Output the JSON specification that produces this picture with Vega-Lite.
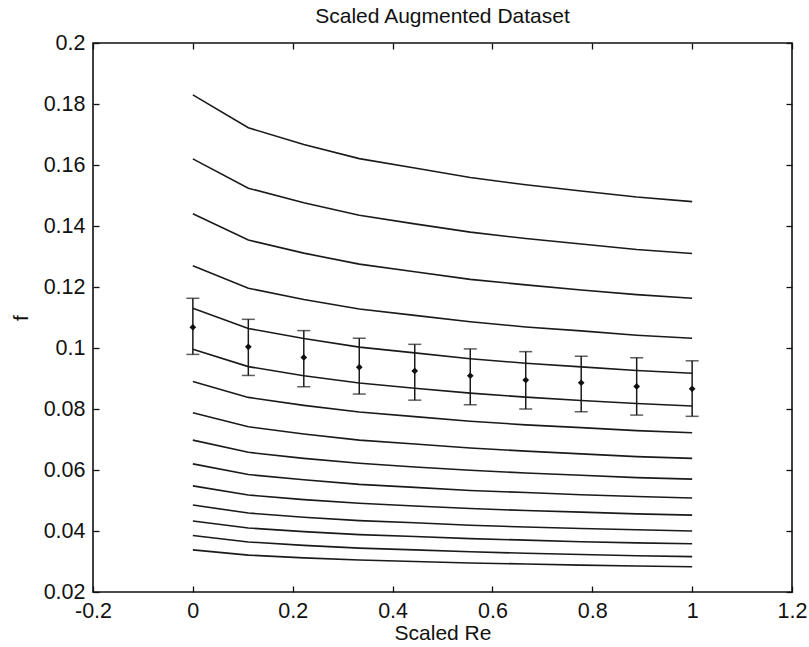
{
  "$schema": "https://vega.github.io/schema/vega-lite/v6.json",
  "width": 699,
  "height": 549,
  "autosize": {"type": "none"},
  "padding": {"left": 93, "top": 43, "right": 17, "bottom": 55},
  "background": "white",
  "config": {
    "font": "Liberation Sans",
    "view": {"stroke": "#111", "strokeWidth": 1.6}
  },
  "title": {"text": "Scaled Augmented Dataset", "fontSize": 21, "fontWeight": "normal", "color": "#111", "anchor": "middle", "offset": 5},
  "datasets": {
    "curves": [
      {"c":1,"x":0,"f":0.183},{"c":1,"x":0.1111,"f":0.1722},{"c":1,"x":0.2222,"f":0.1667},{"c":1,"x":0.3333,"f":0.1621},{"c":1,"x":0.4444,"f":0.159},{"c":1,"x":0.5556,"f":0.1559},{"c":1,"x":0.6667,"f":0.1535},{"c":1,"x":0.7778,"f":0.1515},{"c":1,"x":0.8889,"f":0.1495},{"c":1,"x":1,"f":0.148},
      {"c":2,"x":0,"f":0.162},{"c":2,"x":0.1111,"f":0.1524},{"c":2,"x":0.2222,"f":0.1476},{"c":2,"x":0.3333,"f":0.1435},{"c":2,"x":0.4444,"f":0.1407},{"c":2,"x":0.5556,"f":0.138},{"c":2,"x":0.6667,"f":0.1359},{"c":2,"x":0.7778,"f":0.1341},{"c":2,"x":0.8889,"f":0.1323},{"c":2,"x":1,"f":0.131},
      {"c":3,"x":0,"f":0.144},{"c":3,"x":0.1111,"f":0.1354},{"c":3,"x":0.2222,"f":0.1311},{"c":3,"x":0.3333,"f":0.1275},{"c":3,"x":0.4444,"f":0.125},{"c":3,"x":0.5556,"f":0.1225},{"c":3,"x":0.6667,"f":0.1207},{"c":3,"x":0.7778,"f":0.119},{"c":3,"x":0.8889,"f":0.1175},{"c":3,"x":1,"f":0.1163},
      {"c":4,"x":0,"f":0.127},{"c":4,"x":0.1111,"f":0.1196},{"c":4,"x":0.2222,"f":0.1159},{"c":4,"x":0.3333,"f":0.1128},{"c":4,"x":0.4444,"f":0.1107},{"c":4,"x":0.5556,"f":0.1086},{"c":4,"x":0.6667,"f":0.1069},{"c":4,"x":0.7778,"f":0.1056},{"c":4,"x":0.8889,"f":0.1042},{"c":4,"x":1,"f":0.1032},
      {"c":5,"x":0,"f":0.113},{"c":5,"x":0.1111,"f":0.1064},{"c":5,"x":0.2222,"f":0.1031},{"c":5,"x":0.3333,"f":0.1003},{"c":5,"x":0.4444,"f":0.0984},{"c":5,"x":0.5556,"f":0.0965},{"c":5,"x":0.6667,"f":0.095},{"c":5,"x":0.7778,"f":0.0938},{"c":5,"x":0.8889,"f":0.0926},{"c":5,"x":1,"f":0.0917},
      {"c":6,"x":0,"f":0.0996},{"c":6,"x":0.1111,"f":0.0939},{"c":6,"x":0.2222,"f":0.0909},{"c":6,"x":0.3333,"f":0.0885},{"c":6,"x":0.4444,"f":0.0868},{"c":6,"x":0.5556,"f":0.0852},{"c":6,"x":0.6667,"f":0.0839},{"c":6,"x":0.7778,"f":0.0828},{"c":6,"x":0.8889,"f":0.0818},{"c":6,"x":1,"f":0.081},
      {"c":7,"x":0,"f":0.089},{"c":7,"x":0.1111,"f":0.0838},{"c":7,"x":0.2222,"f":0.0812},{"c":7,"x":0.3333,"f":0.079},{"c":7,"x":0.4444,"f":0.0775},{"c":7,"x":0.5556,"f":0.076},{"c":7,"x":0.6667,"f":0.0748},{"c":7,"x":0.7778,"f":0.0739},{"c":7,"x":0.8889,"f":0.0729},{"c":7,"x":1,"f":0.0722},
      {"c":8,"x":0,"f":0.0788},{"c":8,"x":0.1111,"f":0.0742},{"c":8,"x":0.2222,"f":0.0718},{"c":8,"x":0.3333,"f":0.0698},{"c":8,"x":0.4444,"f":0.0685},{"c":8,"x":0.5556,"f":0.0672},{"c":8,"x":0.6667,"f":0.0662},{"c":8,"x":0.7778,"f":0.0653},{"c":8,"x":0.8889,"f":0.0644},{"c":8,"x":1,"f":0.0638},
      {"c":9,"x":0,"f":0.0698},{"c":9,"x":0.1111,"f":0.0658},{"c":9,"x":0.2222,"f":0.0638},{"c":9,"x":0.3333,"f":0.0622},{"c":9,"x":0.4444,"f":0.061},{"c":9,"x":0.5556,"f":0.0599},{"c":9,"x":0.6667,"f":0.059},{"c":9,"x":0.7778,"f":0.0583},{"c":9,"x":0.8889,"f":0.0575},{"c":9,"x":1,"f":0.057},
      {"c":10,"x":0,"f":0.062},{"c":10,"x":0.1111,"f":0.0585},{"c":10,"x":0.2222,"f":0.0568},{"c":10,"x":0.3333,"f":0.0553},{"c":10,"x":0.4444,"f":0.0543},{"c":10,"x":0.5556,"f":0.0533},{"c":10,"x":0.6667,"f":0.0526},{"c":10,"x":0.7778,"f":0.0519},{"c":10,"x":0.8889,"f":0.0513},{"c":10,"x":1,"f":0.0508},
      {"c":11,"x":0,"f":0.0548},{"c":11,"x":0.1111,"f":0.0518},{"c":11,"x":0.2222,"f":0.0503},{"c":11,"x":0.3333,"f":0.0491},{"c":11,"x":0.4444,"f":0.0482},{"c":11,"x":0.5556,"f":0.0474},{"c":11,"x":0.6667,"f":0.0467},{"c":11,"x":0.7778,"f":0.0462},{"c":11,"x":0.8889,"f":0.0456},{"c":11,"x":1,"f":0.0452},
      {"c":12,"x":0,"f":0.0485},{"c":12,"x":0.1111,"f":0.0459},{"c":12,"x":0.2222,"f":0.0445},{"c":12,"x":0.3333,"f":0.0434},{"c":12,"x":0.4444,"f":0.0427},{"c":12,"x":0.5556,"f":0.0419},{"c":12,"x":0.6667,"f":0.0413},{"c":12,"x":0.7778,"f":0.0408},{"c":12,"x":0.8889,"f":0.0404},{"c":12,"x":1,"f":0.04},
      {"c":13,"x":0,"f":0.0433},{"c":13,"x":0.1111,"f":0.041},{"c":13,"x":0.2222,"f":0.0398},{"c":13,"x":0.3333,"f":0.0388},{"c":13,"x":0.4444,"f":0.0382},{"c":13,"x":0.5556,"f":0.0375},{"c":13,"x":0.6667,"f":0.037},{"c":13,"x":0.7778,"f":0.0365},{"c":13,"x":0.8889,"f":0.0361},{"c":13,"x":1,"f":0.0358},
      {"c":14,"x":0,"f":0.0385},{"c":14,"x":0.1111,"f":0.0364},{"c":14,"x":0.2222,"f":0.0353},{"c":14,"x":0.3333,"f":0.0344},{"c":14,"x":0.4444,"f":0.0338},{"c":14,"x":0.5556,"f":0.0332},{"c":14,"x":0.6667,"f":0.0327},{"c":14,"x":0.7778,"f":0.0323},{"c":14,"x":0.8889,"f":0.0319},{"c":14,"x":1,"f":0.0316},
      {"c":15,"x":0,"f":0.0338},{"c":15,"x":0.1111,"f":0.0321},{"c":15,"x":0.2222,"f":0.0312},{"c":15,"x":0.3333,"f":0.0305},{"c":15,"x":0.4444,"f":0.03},{"c":15,"x":0.5556,"f":0.0295},{"c":15,"x":0.6667,"f":0.0292},{"c":15,"x":0.7778,"f":0.0288},{"c":15,"x":0.8889,"f":0.0285},{"c":15,"x":1,"f":0.0283}
    ],
    "err": [
      {"x":0,"f":0.1068,"lo":0.0979,"hi":0.1163},
      {"x":0.1111,"f":0.1004,"lo":0.091,"hi":0.1094},
      {"x":0.2222,"f":0.0969,"lo":0.0873,"hi":0.1057},
      {"x":0.3333,"f":0.0937,"lo":0.0849,"hi":0.1032},
      {"x":0.4444,"f":0.0925,"lo":0.0829,"hi":0.1012},
      {"x":0.5556,"f":0.0909,"lo":0.0814,"hi":0.0997},
      {"x":0.6667,"f":0.0895,"lo":0.08,"hi":0.0988},
      {"x":0.7778,"f":0.0886,"lo":0.0791,"hi":0.0973},
      {"x":0.8889,"f":0.0874,"lo":0.078,"hi":0.0968},
      {"x":1,"f":0.0866,"lo":0.0776,"hi":0.0958}
    ]
  },
  "resolve": {"scale": {"x": "shared", "y": "shared"}, "axis": {"x": "independent", "y": "independent"}},
  "layer": [
    {
      "data": {"name": "curves"},
      "mark": {"type": "line", "color": "#1a1a1a", "strokeWidth": 1.6},
      "encoding": {
        "x": {"field": "x", "type": "quantitative", "scale": {"domain": [-0.2, 1.2], "nice": false, "zero": false},
          "axis": {"orient": "bottom", "values": [-0.2, 0, 0.2, 0.4, 0.6, 0.8, 1, 1.2], "tickSize": -6, "tickColor": "#111", "tickWidth": 1.3, "domain": false, "grid": false,
            "labelFontSize": 21.5, "labelColor": "#111", "labelPadding": 14, "labelFlush": false, "labelOverlap": false,
            "labelExpr": "replace(format(datum.value, '.1~f'), '\u2212', '-')",
            "title": "Scaled Re", "titleFontSize": 21, "titleFontWeight": "normal", "titleColor": "#111", "titlePadding": 1}},
        "y": {"field": "f", "type": "quantitative", "scale": {"domain": [0.02, 0.2], "nice": false, "zero": false},
          "axis": {"orient": "left", "values": [0.02, 0.04, 0.06, 0.08, 0.1, 0.12, 0.14, 0.16, 0.18, 0.2], "tickSize": -6, "tickColor": "#111", "tickWidth": 1.3, "domain": false, "grid": false,
            "labelFontSize": 21.5, "labelColor": "#111", "labelPadding": 14, "labelFlush": false, "labelOverlap": false,
            "labelExpr": "format(datum.value, '.2~f')",
            "title": "f", "titleFontSize": 21, "titleFontWeight": "normal", "titleColor": "#111", "titlePadding": 12}},
        "detail": {"field": "c", "type": "nominal"}
      }
    },
    {
      "data": {"name": "err"},
      "mark": {"type": "rule", "color": "#1a1a1a", "strokeWidth": 1.5},
      "encoding": {
        "x": {"field": "x", "type": "quantitative", "axis": null},
        "y": {"field": "lo", "type": "quantitative", "axis": null},
        "y2": {"field": "hi"}
      }
    },
    {
      "data": {"name": "err"},
      "mark": {"type": "tick", "orient": "horizontal", "color": "#1a1a1a", "size": 13, "thickness": 1.5},
      "encoding": {
        "x": {"field": "x", "type": "quantitative", "axis": null},
        "y": {"field": "lo", "type": "quantitative", "axis": null}
      }
    },
    {
      "data": {"name": "err"},
      "mark": {"type": "tick", "orient": "horizontal", "color": "#1a1a1a", "size": 13, "thickness": 1.5},
      "encoding": {
        "x": {"field": "x", "type": "quantitative", "axis": null},
        "y": {"field": "hi", "type": "quantitative", "axis": null}
      }
    },
    {
      "data": {"name": "err"},
      "mark": {"type": "point", "shape": "diamond", "filled": true, "color": "#111", "size": 45, "opacity": 1},
      "encoding": {
        "x": {"field": "x", "type": "quantitative", "axis": null},
        "y": {"field": "f", "type": "quantitative", "axis": null}
      }
    },
    {
      "data": {"name": "err"},
      "mark": {"type": "point", "opacity": 0},
      "encoding": {
        "x": {"field": "x", "type": "quantitative",
          "axis": {"orient": "top", "values": [-0.2, 0, 0.2, 0.4, 0.6, 0.8, 1, 1.2], "tickSize": -6, "tickColor": "#111", "tickWidth": 1.3, "domain": false, "grid": false, "labels": false, "title": null}},
        "y": {"field": "f", "type": "quantitative",
          "axis": {"orient": "right", "values": [0.02, 0.04, 0.06, 0.08, 0.1, 0.12, 0.14, 0.16, 0.18, 0.2], "tickSize": -6, "tickColor": "#111", "tickWidth": 1.3, "domain": false, "grid": false, "labels": false, "title": null}}
      }
    }
  ]
}
